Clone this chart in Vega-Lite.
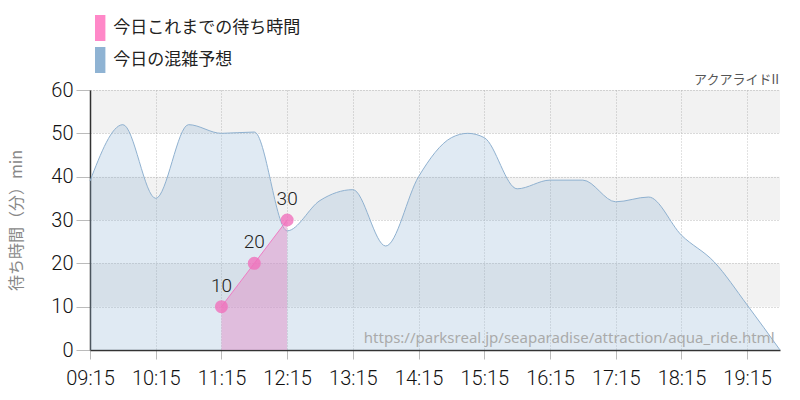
{
  "$schema": "https://vega.github.io/schema/vega-lite/v6.json",
  "width": 690,
  "height": 260,
  "autosize": {"type": "none"},
  "padding": {"left": 90, "top": 90, "right": 20, "bottom": 50},
  "background": "white",
  "title": {"text": "アクアライドII", "anchor": "end", "fontSize": 13, "font": "Noto Sans CJK JP", "fontWeight": "normal", "color": "#555", "offset": -72, "dx": -3},
  "config": {"view": {"stroke": null}},
  "datasets": {
    "forecast": [
      {"t": "2024-01-01T09:15", "v": 39},
      {"t": "2024-01-01T09:45", "v": 52},
      {"t": "2024-01-01T10:15", "v": 35},
      {"t": "2024-01-01T10:45", "v": 52},
      {"t": "2024-01-01T11:15", "v": 50},
      {"t": "2024-01-01T11:45", "v": 50.3},
      {"t": "2024-01-01T12:15", "v": 27.5},
      {"t": "2024-01-01T12:45", "v": 34.5},
      {"t": "2024-01-01T13:15", "v": 37},
      {"t": "2024-01-01T13:45", "v": 24},
      {"t": "2024-01-01T14:15", "v": 40},
      {"t": "2024-01-01T14:45", "v": 49},
      {"t": "2024-01-01T15:00", "v": 50},
      {"t": "2024-01-01T15:15", "v": 49},
      {"t": "2024-01-01T15:45", "v": 37.2},
      {"t": "2024-01-01T16:15", "v": 39.2},
      {"t": "2024-01-01T16:45", "v": 39.2},
      {"t": "2024-01-01T17:15", "v": 34.2},
      {"t": "2024-01-01T17:45", "v": 35.3},
      {"t": "2024-01-01T18:15", "v": 26.5},
      {"t": "2024-01-01T18:45", "v": 20.3},
      {"t": "2024-01-01T19:15", "v": 10.4},
      {"t": "2024-01-01T19:45", "v": 0}
    ],
    "actual": [
      {"t": "2024-01-01T11:15", "v": 10},
      {"t": "2024-01-01T11:45", "v": 20},
      {"t": "2024-01-01T12:15", "v": 30}
    ],
    "bands": [
      {"a": 10, "b": 20},
      {"a": 30, "b": 40},
      {"a": 50, "b": 60}
    ]
  },
  "layer": [
    {
      "data": {"name": "bands"},
      "mark": {"type": "rect", "fill": "#000000", "opacity": 0.05},
      "encoding": {
        "y": {
          "field": "a", "type": "quantitative",
          "scale": {"domain": [0, 60], "nice": false},
          "axis": {
            "values": [0, 10, 20, 30, 40, 50, 60],
            "title": "待ち時間（分）min",
            "titleColor": "#888",
            "titleFont": "Noto Sans CJK JP",
            "titleFontSize": 16,
            "titleFontWeight": "normal",
            "titlePadding": 26,
            "labelFont": "Roboto",
            "labelFontWeight": 300,
            "labelFontSize": 20,
            "labelColor": "#111",
            "tickColor": "#bbb",
            "tickSize": 14,
            "labelPadding": 3,
            "domainColor": "#333",
            "domainWidth": 1.5,
            "gridColor": "#bbb",
            "gridDash": [1, 2]
          }
        },
        "y2": {"field": "b"}
      }
    },
    {
      "data": {"name": "forecast"},
      "mark": {"type": "area", "interpolate": "monotone", "fillOpacity": 0.28},
      "encoding": {
        "x": {
          "field": "t", "type": "temporal",
          "scale": {"domain": [
            {"year": 2024, "month": 1, "date": 1, "hours": 9, "minutes": 15},
            {"year": 2024, "month": 1, "date": 1, "hours": 19, "minutes": 45}
          ]},
          "axis": {
            "title": null,
            "values": [
              {"year": 2024, "month": 1, "date": 1, "hours": 9, "minutes": 15},
              {"year": 2024, "month": 1, "date": 1, "hours": 9, "minutes": 45},
              {"year": 2024, "month": 1, "date": 1, "hours": 10, "minutes": 15},
              {"year": 2024, "month": 1, "date": 1, "hours": 10, "minutes": 45},
              {"year": 2024, "month": 1, "date": 1, "hours": 11, "minutes": 15},
              {"year": 2024, "month": 1, "date": 1, "hours": 11, "minutes": 45},
              {"year": 2024, "month": 1, "date": 1, "hours": 12, "minutes": 15},
              {"year": 2024, "month": 1, "date": 1, "hours": 12, "minutes": 45},
              {"year": 2024, "month": 1, "date": 1, "hours": 13, "minutes": 15},
              {"year": 2024, "month": 1, "date": 1, "hours": 13, "minutes": 45},
              {"year": 2024, "month": 1, "date": 1, "hours": 14, "minutes": 15},
              {"year": 2024, "month": 1, "date": 1, "hours": 14, "minutes": 45},
              {"year": 2024, "month": 1, "date": 1, "hours": 15, "minutes": 15},
              {"year": 2024, "month": 1, "date": 1, "hours": 15, "minutes": 45},
              {"year": 2024, "month": 1, "date": 1, "hours": 16, "minutes": 15},
              {"year": 2024, "month": 1, "date": 1, "hours": 16, "minutes": 45},
              {"year": 2024, "month": 1, "date": 1, "hours": 17, "minutes": 15},
              {"year": 2024, "month": 1, "date": 1, "hours": 17, "minutes": 45},
              {"year": 2024, "month": 1, "date": 1, "hours": 18, "minutes": 15},
              {"year": 2024, "month": 1, "date": 1, "hours": 18, "minutes": 45},
              {"year": 2024, "month": 1, "date": 1, "hours": 19, "minutes": 15}
            ],
            "labelExpr": "minutes(datum.value) == 15 ? timeFormat(datum.value, '%H:%M') : ''",
            "labelFont": "Roboto",
            "labelFontWeight": 300,
            "labelFontSize": 20,
            "labelColor": "#111",
            "labelPadding": 9,
            "labelFlush": false,
            "labelOverlap": false,
            "tickColor": "#bbb",
            "tickSize": 9,
            "tickOpacity": {"condition": {"test": "minutes(datum.value) == 45", "value": 0}, "value": 1},
            "domainColor": "#333",
            "domainWidth": 1.5,
            "gridColor": "#c4c4c4",
            "gridDash": {"condition": {"test": "minutes(datum.value) == 45", "value": [4, 3]}, "value": [1, 2]}
          }
        },
        "y": {"field": "v", "type": "quantitative"},
        "color": {
          "datum": "今日の混雑予想",
          "type": "nominal",
          "scale": {"domain": ["今日これまでの待ち時間", "今日の混雑予想"], "range": ["#ff88c8", "#8fb3d3"]},
          "legend": {
            "title": null,
            "orient": "none",
            "legendX": -2.8,
            "legendY": -75,
            "padding": 0,
            "symbolType": "M-0.4,-1H0.4V1H-0.4Z",
            "symbolSize": 676,
            "symbolOpacity": 1,
            "symbolFillOpacity": 1,
            "symbolStrokeWidth": 0,
            "rowPadding": 6,
            "labelOffset": 0,
            "labelFont": "Noto Sans CJK JP",
            "labelFontSize": 17,
            "labelColor": "#222",
            "labelLimit": 400
          }
        }
      }
    },
    {
      "data": {"name": "forecast"},
      "mark": {"type": "line", "interpolate": "monotone", "color": "#8fb1d0", "strokeWidth": 1},
      "encoding": {
        "x": {"field": "t", "type": "temporal"},
        "y": {"field": "v", "type": "quantitative"}
      }
    },
    {
      "data": {"name": "actual"},
      "mark": {"type": "area", "fill": "#e090c8", "fillOpacity": 0.5},
      "encoding": {
        "x": {"field": "t", "type": "temporal"},
        "y": {"field": "v", "type": "quantitative"}
      }
    },
    {
      "data": {"name": "actual"},
      "mark": {"type": "line", "color": "#f07cc4", "strokeWidth": 1},
      "encoding": {
        "x": {"field": "t", "type": "temporal"},
        "y": {"field": "v", "type": "quantitative"}
      }
    },
    {
      "data": {"name": "actual"},
      "mark": {"type": "circle", "color": "#f070bc", "opacity": 0.8, "size": 170},
      "encoding": {
        "x": {"field": "t", "type": "temporal"},
        "y": {"field": "v", "type": "quantitative"}
      }
    },
    {
      "data": {"name": "actual"},
      "mark": {"type": "text", "dy": -11, "baseline": "bottom", "font": "Roboto", "fontWeight": 300, "fontSize": 19, "color": "#222"},
      "encoding": {
        "x": {"field": "t", "type": "temporal"},
        "y": {"field": "v", "type": "quantitative"},
        "text": {"field": "v", "type": "quantitative"}
      }
    },
    {
      "data": {"values": [{"url": "https://parksreal.jp/seaparadise/attraction/aqua_ride.html", "t": "2024-01-01T19:40", "v": 1.6}]},
      "mark": {"type": "text", "align": "right", "baseline": "alphabetic", "font": "Noto Sans", "fontSize": 15, "color": "#aaa"},
      "encoding": {
        "x": {"field": "t", "type": "temporal"},
        "y": {"field": "v", "type": "quantitative"},
        "text": {"field": "url"}
      }
    }
  ]
}
